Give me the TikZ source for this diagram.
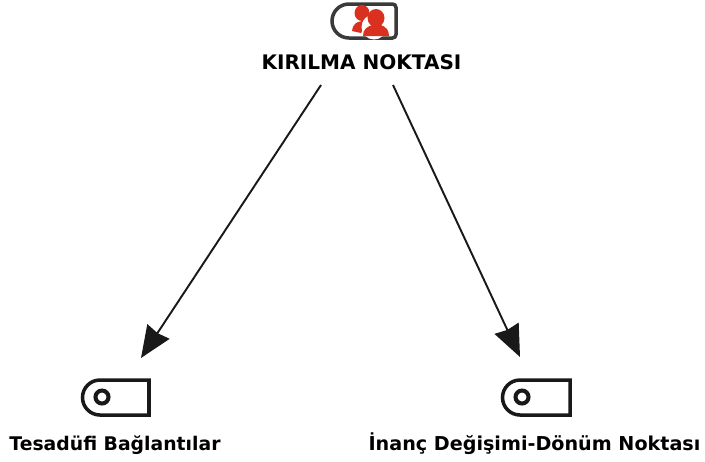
\documentclass[tikz,border=0pt]{standalone}
\usepackage{fontspec}
\usepackage{xcolor}
\usetikzlibrary{arrows.meta}
\setmainfont{DejaVu Sans}
\definecolor{kirmizi}{HTML}{D9301F}
\definecolor{koyu}{HTML}{3A3A3A}
\def\genislik{705}
\def\yukseklik{461}
\tikzset{
  etiket/.style={font=\bfseries\fontsize{10.7pt}{12pt}\selectfont, text=black, inner sep=0pt, anchor=base},
  ok/.style={line width=1.1pt, draw=black!90, -{Stealth[length=18pt, width=15pt, inset=1pt]}},
  kart/.style={line width=2pt, draw=black!90, line join=miter},
  halka/.style={line width=2.3pt, draw=black!90},
}
\begin{document}
\begin{tikzpicture}[x=0.02cm, y=-0.02cm]
\useasboundingbox (0,0) rectangle (\genislik,\yukseklik);
%\draw[step=50, black!20!white] (0,0) grid (\genislik,\yukseklik);
    % ust simge
    \draw[line width=2pt, draw=koyu, rounded corners=2pt] (349,4) -- (396,4) -- (396,38) -- (349,38);
    \draw[line width=2pt, draw=koyu] (349,38) arc (90:270:17);
    \fill[kirmizi] (362,13) circle (7.5 and 8);
    \fill[kirmizi] (352,31) .. controls (353,24) and (356,22) .. (362,21) -- (368,21) -- (361,33) -- cycle;
    \fill[white] (374,27) circle (12.5);
    \fill[kirmizi] (376,18) circle (8.5 and 9);
    \fill[kirmizi] (363,36) .. controls (363,29) and (367,27) .. (372,25) -- (381,25) .. controls (386,27) and (389,30) .. (389,36) -- cycle;
    % alt simgeler
    \draw[kart] (100,380) -- (149,380) -- (149,415) -- (100,415) arc (90:270:17.5) -- cycle;
    \draw[halka] (102,397) circle (6.5);
    \draw[kart] (520,380) -- (570,380) -- (570,415) -- (520,415) arc (90:270:17.5) -- cycle;
    \draw[halka] (522,397) circle (6.5);
    % etiketler
    \node[etiket, font=\bfseries\fontsize{11.4pt}{12pt}\selectfont] (kirilma) at (361.5,69.5) {KIRILMA NOKTASI};
    \node[etiket] (tesadufi) at (115,450) {Tesadüfi Bağlantılar};
    \node[etiket, font=\bfseries\fontsize{10.9pt}{12pt}\selectfont] (inanc) at (534.5,450) {İnanç Değişimi-Dönüm Noktası};
    % oklar
    \coordinate (u1) at (321,85);
    \coordinate (u2) at (393,85);
    \coordinate (v1) at (141,358);
    \coordinate (v2) at (520,357);
    \draw[ok] (u1) -- (v1);
    \draw[ok] (u2) -- (v2);
\end{tikzpicture}
\end{document}
